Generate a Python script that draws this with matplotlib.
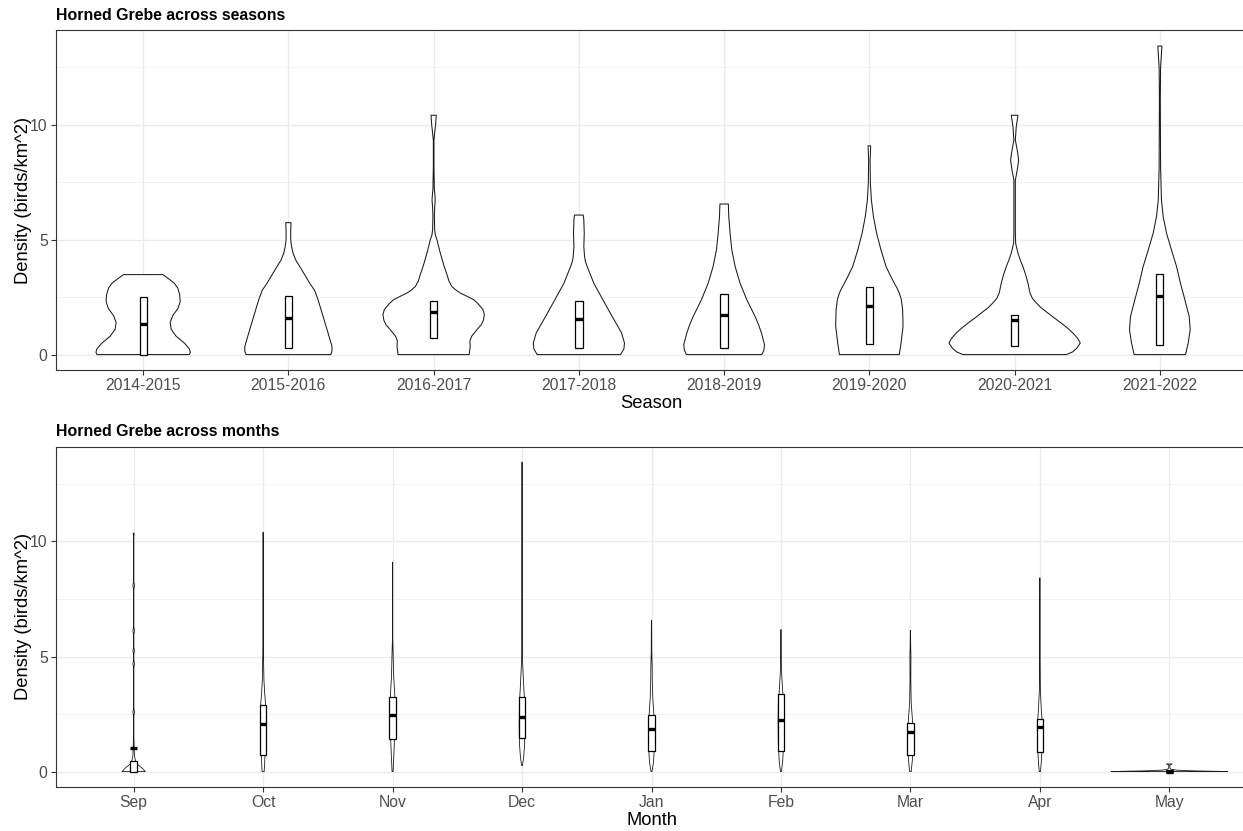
import numpy as np
import matplotlib.pyplot as plt
from matplotlib.patches import Rectangle

plt.rcParams['font.family'] = ['Liberation Sans', 'DejaVu Sans']

# ---- seasons panel ----
seasons = ["2014-2015", "2015-2016", "2016-2017", "2017-2018",
           "2018-2019", "2019-2020", "2020-2021", "2021-2022"]

# violin outlines: (density value, half width in category units)
season_violins = [
    [(0, 0.318), (0.1, 0.325), (0.25, 0.318), (0.5, 0.284), (0.8, 0.227), (1.1, 0.193),
     (1.4, 0.186), (1.7, 0.204), (2.0, 0.239), (2.3, 0.255), (2.6, 0.252), (2.9, 0.238),
     (3.1, 0.215), (3.3, 0.175), (3.48, 0.135)],
    [(0, 0.292), (0.15, 0.30), (0.36, 0.30), (0.94, 0.273), (1.66, 0.239), (2.39, 0.204),
     (2.8, 0.18), (3.1, 0.147), (3.5, 0.11), (3.83, 0.078), (4.1, 0.052), (4.41, 0.032),
     (4.7, 0.022), (4.99, 0.016), (5.42, 0.016), (5.74, 0.018)],
    [(0, 0.245), (0.36, 0.252), (0.6, 0.25), (0.8, 0.262), (1.08, 0.298), (1.3, 0.328),
     (1.5, 0.343), (1.74, 0.349), (1.95, 0.34), (2.1, 0.321), (2.25, 0.3), (2.39, 0.275),
     (2.55, 0.225), (2.68, 0.183), (2.8, 0.155), (2.96, 0.126), (3.2, 0.105), (3.4, 0.096),
     (3.83, 0.073), (4.41, 0.046), (4.99, 0.023), (5.2, 0.012), (5.42, 0.007), (6.0, 0.005),
     (6.4, 0.007), (6.72, 0.011), (7.0, 0.008), (7.16, 0.005), (8.17, 0.002), (9.33, 0.002),
     (9.62, 0.007), (10.05, 0.014), (10.41, 0.018)],
    [(0, 0.287), (0.25, 0.31), (0.5, 0.314), (0.94, 0.294), (1.3, 0.262), (1.66, 0.229),
     (2.39, 0.165), (3.1, 0.103), (3.5, 0.078), (3.83, 0.057), (4.05, 0.045), (4.27, 0.039),
     (4.7, 0.034), (5.28, 0.037), (5.86, 0.034), (6.07, 0.03)],
    [(0, 0.26), (0.2, 0.274), (0.43, 0.278), (0.94, 0.257), (1.3, 0.237), (1.66, 0.213),
     (2.39, 0.156), (3.1, 0.11), (3.83, 0.076), (4.55, 0.053), (5.28, 0.041), (6.0, 0.032),
     (6.55, 0.029)],
    [(0, 0.206), (0.5, 0.218), (1.23, 0.232), (1.95, 0.229), (2.4, 0.22), (2.68, 0.206),
     (2.9, 0.19), (3.1, 0.172), (3.5, 0.14), (3.83, 0.115), (4.55, 0.08), (5.28, 0.05),
     (6.0, 0.028), (6.72, 0.014), (7.45, 0.007), (8.46, 0.005), (9.08, 0.009)],
    [(0, 0.356), (0.12, 0.4), (0.29, 0.43), (0.5, 0.452), (0.7, 0.435), (0.94, 0.401),
     (1.15, 0.365), (1.37, 0.321), (1.6, 0.272), (1.81, 0.229), (2.05, 0.18), (2.24, 0.151),
     (2.45, 0.122), (2.68, 0.106), (3.1, 0.092), (3.5, 0.075), (3.83, 0.057), (4.1, 0.04),
     (4.41, 0.023), (4.84, 0.007), (5.28, 0.005), (6.72, 0.005), (7.59, 0.005), (8.03, 0.018),
     (8.46, 0.028), (8.89, 0.018), (9.33, 0.005), (9.9, 0.011), (10.41, 0.023)],
    [(0, 0.177), (0.5, 0.195), (1.08, 0.209), (1.66, 0.202), (2.39, 0.172), (3.1, 0.142),
     (3.83, 0.115), (4.55, 0.08), (5.28, 0.046), (6.0, 0.023), (6.72, 0.011), (8.17, 0.005),
     (11.06, 0.003), (12.5, 0.005), (13.42, 0.014)],
]
season_q1 = [0.0, 0.29, 0.72, 0.29, 0.29, 0.48, 0.36, 0.43]
season_med = [1.34, 1.59, 1.84, 1.56, 1.74, 2.10, 1.49, 2.53]
season_q3 = [2.49, 2.56, 2.31, 2.31, 2.65, 2.94, 1.74, 3.51]

# ---- months panel ----
months = ["Sep", "Oct", "Nov", "Dec", "Jan", "Feb", "Mar", "Apr", "May"]

month_violins = [
    [(0, 0.09), (0.16, 0.064), (0.33, 0.026), (0.48, 0.013), (0.7, 0.006), (1.0, 0.004),
     (1.5, 0.001), (2.4, 0.001), (2.58, 0.006), (2.75, 0.001), (4.5, 0.001), (4.68, 0.006),
     (4.85, 0.001), (5.1, 0.001), (5.26, 0.006), (5.4, 0.001), (5.95, 0.001), (6.13, 0.006),
     (6.3, 0.001), (7.9, 0.001), (8.09, 0.006), (8.25, 0.001), (10.2, 0.001), (10.36, 0.004)],
    [(0, 0.008), (0.4, 0.012), (0.8, 0.015), (1.5, 0.018), (2.5, 0.02), (3.0, 0.018),
     (3.4, 0.012), (4.0, 0.006), (4.9, 0.003), (5.5, 0.001), (9.0, 0.001), (10.4, 0.001)],
    [(0, 0.004), (0.5, 0.008), (1.0, 0.012), (2.0, 0.018), (3.0, 0.02), (3.5, 0.015),
     (4.2, 0.008), (5.2, 0.004), (5.8, 0.001), (9.1, 0.001)],
    [(0.26, 0.003), (0.6, 0.012), (1.2, 0.02), (2.0, 0.022), (3.0, 0.02), (3.8, 0.012),
     (4.5, 0.006), (5.0, 0.003), (5.5, 0.001), (13.45, 0.001)],
    [(0, 0.004), (0.4, 0.015), (1.0, 0.022), (1.8, 0.022), (2.5, 0.018), (3.2, 0.01),
     (4.0, 0.006), (4.6, 0.005), (5.2, 0.002), (6.57, 0.001)],
    [(0, 0.004), (0.5, 0.014), (1.2, 0.02), (2.2, 0.022), (3.0, 0.02), (3.6, 0.012),
     (4.3, 0.005), (5.0, 0.002), (6.17, 0.001)],
    [(0, 0.006), (0.5, 0.015), (1.0, 0.02), (1.7, 0.022), (2.3, 0.015), (3.0, 0.006),
     (4.0, 0.003), (5.0, 0.004), (5.5, 0.002), (6.13, 0.001)],
    [(0, 0.005), (0.5, 0.012), (1.2, 0.018), (2.0, 0.02), (2.6, 0.012), (3.5, 0.004),
     (5.0, 0.002), (8.42, 0.001)],
    [(0, 0.45), (0.01, 0.38), (0.03, 0.2), (0.06, 0.06), (0.1, 0.015), (0.15, 0.005),
     (0.28, 0.004), (0.33, 0.023)],
]
month_q1 = [0.0, 0.70, 1.42, 1.46, 0.88, 0.91, 0.74, 0.84, 0.0]
month_med = [1.03, 2.07, 2.48, 2.36, 1.86, 2.25, 1.71, 1.93, 0.0]
month_q3 = [0.45, 2.90, 3.23, 3.23, 2.46, 3.38, 2.10, 2.29, 0.07]

BOX_W = 0.05
GRID = "#EBEBEB"
BORDER = "#333333"


def draw_panel(ax, labels, violins, q1, med, q3, xlabel, outline_w):
    n = len(labels)
    pos = np.arange(1, n + 1)
    for p, prof, lo, m, hi in zip(pos, violins, q1, med, q3):
        ys = np.array([v[0] for v in prof])
        hw = np.array([v[1] for v in prof])
        xs = np.concatenate([p - hw, (p + hw)[::-1]])
        yy = np.concatenate([ys, ys[::-1]])
        ax.fill(xs, yy, facecolor="white", edgecolor="#1a1a1a", linewidth=outline_w,
                joinstyle="round", zorder=3)
        ax.add_patch(Rectangle((p - BOX_W / 2, lo), BOX_W, hi - lo, facecolor="white",
                               edgecolor="black", linewidth=0.9, zorder=4))
        ax.plot([p - BOX_W / 2, p + BOX_W / 2], [m, m], color="black", linewidth=2.4,
                solid_capstyle="butt", zorder=5)

    ax.set_xlim(0.4, n + 0.6)
    ax.set_ylim(-0.67, 14.12)
    ax.set_xticks(pos)
    ax.set_xticklabels(labels)
    ax.set_yticks([0, 5, 10])
    ax.set_yticks([2.5, 7.5, 12.5], minor=True)
    ax.grid(True, which="major", color=GRID, linewidth=1.0, zorder=0)
    ax.grid(True, which="minor", axis="y", color=GRID, linewidth=0.5, zorder=0)
    ax.set_axisbelow(True)
    ax.tick_params(axis="both", which="major", length=3.5, width=0.8, color=BORDER,
                   labelsize=11.3, labelcolor="#4D4D4D", pad=2.5)
    ax.tick_params(which="minor", length=0)
    for s in ax.spines.values():
        s.set_color(BORDER)
        s.set_linewidth(0.8)
    ax.set_xlabel(xlabel, fontsize=13.2, labelpad=1)
    ax.set_ylabel("Density (birds/km^2)", fontsize=13.2, labelpad=-1.5)


fig = plt.figure(figsize=(12.43, 8.31), dpi=100)
ax1 = fig.add_axes([56 / 1243, 1 - 370 / 831, 1191 / 1243, 340 / 831])
ax2 = fig.add_axes([56 / 1243, 1 - 787 / 831, 1191 / 1243, 340.3 / 831])

draw_panel(ax1, seasons, season_violins, season_q1, season_med, season_q3, "Season", 0.75)
draw_panel(ax2, months, month_violins, month_q1, month_med, month_q3, "Month", 0.6)

fig.text(56 / 1243, 1 - 15 / 831, "Horned Grebe across seasons", fontsize=11.4,
         fontweight="bold", ha="left", va="center")
fig.text(56 / 1243, 1 - 432 / 831, "Horned Grebe across months", fontsize=11.4,
         fontweight="bold", ha="left", va="center")

fig.savefig("out.png", dpi=100, facecolor="white")
